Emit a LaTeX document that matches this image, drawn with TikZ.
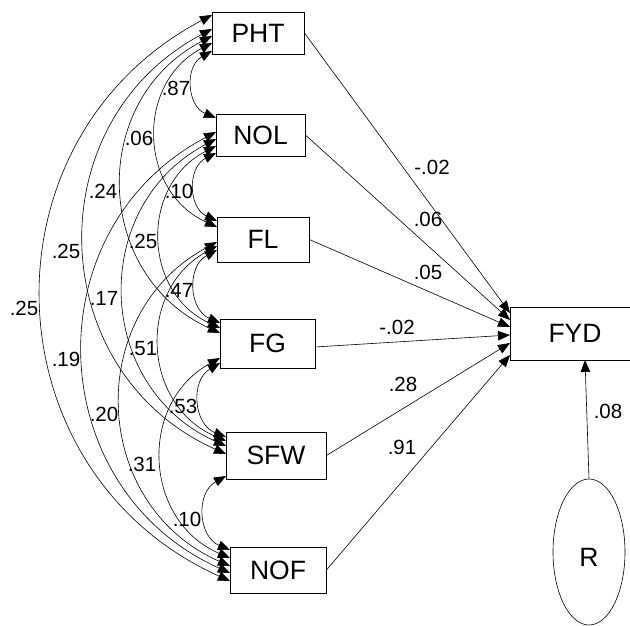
\documentclass[tikz,border=0pt]{standalone}
\usepackage{fontspec}
\setmainfont{Liberation Sans}
\usetikzlibrary{arrows.meta,shapes.geometric}

\newcommand{\varfont}{\fontsize{26.5}{28}\selectfont}
\newcommand{\coeffont}{\fontsize{20.5}{22}\selectfont}

\tikzset{
  var/.style={draw, line width=0.9pt, inner sep=0pt, font=\varfont},
  cov/.style={{Triangle[length=12pt,width=9.5pt]}-{Triangle[length=12pt,width=9.5pt]},
              line width=0.6pt, bend right=64, looseness=1.2},
  effect/.style={-{Triangle[length=12pt,width=9.5pt]}, line width=0.6pt},
  coef/.style={font=\coeffont, inner sep=0pt}
}

\begin{document}
\begin{tikzpicture}[x=1pt, y=-1pt]
\useasboundingbox (0,0) rectangle (630,626);
\clip (0,0) rectangle (630,626);

% observed variables
\node[var, minimum width=92pt, minimum height=42pt] (PHT) at (258,33) {PHT};
\node[var, minimum width=89pt, minimum height=42pt] (NOL) at (260.5,135) {NOL};
\node[var, minimum width=92pt, minimum height=45pt] (FL)  at (263,239.5) {FL};
\node[var, minimum width=95pt, minimum height=49pt] (FG)  at (267.5,343.5) {FG};
\node[var, minimum width=100pt, minimum height=47pt] (SFW) at (276,455.5) {SFW};
\node[var, minimum width=96pt, minimum height=46pt] (NOF) at (278,570) {NOF};
\node[var, minimum width=130pt, minimum height=53pt] (FYD) at (575,333.5) {FYD};
% residual
\node[draw, ellipse, line width=0.6pt, minimum width=72pt, minimum height=146pt, inner sep=0pt,
      label={[font=\varfont, yshift=-5pt]center:R}] (R) at (589,552) {};

% attachment points on the left edges
\coordinate (pht1) at (212,51);  \coordinate (pht2) at (212,43);
\coordinate (pht3) at (212,36);  \coordinate (pht4) at (212,29);
\coordinate (pht5) at (212,15);
\coordinate (nolA) at (216,118);
\coordinate (nol1) at (216,153); \coordinate (nol2) at (216,146);
\coordinate (nol3) at (216,139); \coordinate (nol4) at (216,132);
\coordinate (flA) at (217,221);  \coordinate (flB) at (217,227);
\coordinate (fl1) at (217,250);  \coordinate (fl2) at (217,246);
\coordinate (fl3) at (217,242);
\coordinate (fgA) at (220,323);  \coordinate (fgB) at (220,328);
\coordinate (fgC) at (220,333);
\coordinate (fg1) at (220,363);  \coordinate (fg2) at (220,358);
\coordinate (sfwA) at (226,437); \coordinate (sfwB) at (226,441);
\coordinate (sfwC) at (226,446); \coordinate (sfwD) at (226,454);
\coordinate (sfw1) at (226,476);
\coordinate (nofA) at (230,550); \coordinate (nofB) at (230,558);
\coordinate (nofC) at (230,566); \coordinate (nofD) at (230,573);
\coordinate (nofE) at (230,581);

% covariances
\draw[cov] (pht1) to (nolA);
\draw[cov] (pht2) to (flB);
\draw[cov] (pht3) to (fgC);
\draw[cov] (pht4) to (sfwD);
\draw[cov] (pht5) to (nofE);
\draw[cov] (nol1) to (flA);
\draw[cov] (nol2) to (fgB);
\draw[cov] (nol3) to (sfwC);
\draw[cov] (nol4) to (nofD);
\draw[cov] (fl1) to (fgA);
\draw[cov] (fl2) to (sfwB);
\draw[cov] (fl3) to (nofC);
\draw[cov] (fg1) to (sfwA);
\draw[cov] (fg2) to (nofB);
\draw[cov] (sfw1) to (nofA);

% covariance values
\node[coef] (c1)  at (176,88)  {.87};
\node[coef] (c2)  at (139,138) {.06};
\node[coef] (c3)  at (103,191) {.24};
\node[coef] (c4)  at (66,251)  {.25};
\node[coef] (c5)  at (24,308)  {.25};
\node[coef] (c6)  at (179,191) {.10};
\node[coef] (c7)  at (143,241) {.25};
\node[coef] (c8)  at (104,298) {.17};
\node[coef] (c9)  at (66,359)  {.19};
\node[coef] (c10) at (179,290) {.47};
\node[coef] (c11) at (143,349) {.51};
\node[coef] (c12) at (104,414) {.20};
\node[coef] (c13) at (183,406) {.53};
\node[coef] (c14) at (142,464) {.31};
\node[coef] (c15) at (187,519) {.10};

% paths into FYD
\coordinate (fg-out) at (315,347);
\coordinate (fyd1) at (510,313);
\coordinate (fyd2) at (510,320);
\coordinate (fyd3) at (510,327);
\coordinate (fyd4) at (510,335);
\coordinate (fyd5) at (510,343);
\coordinate (fyd6) at (510,355);
\coordinate (fydR) at (585,360);

\draw[effect] (PHT.east) -- (fyd1);
\draw[effect] (NOL.east) -- (fyd2);
\draw[effect] (FL.east)  -- (fyd3);
\draw[effect] (fg-out)   -- (fyd4);
\draw[effect] (SFW.east) -- (fyd5);
\draw[effect] (NOF.east) -- (fyd6);
\draw[effect] (R.north)  -- (fydR);

% path coefficients
\node[coef] (b1) at (432,167) {-.02};
\node[coef] (b2) at (428,219) {.06};
\node[coef] (b3) at (428,272) {.05};
\node[coef] (b4) at (397,327) {-.02};
\node[coef] (b5) at (403,384) {.28};
\node[coef] (b6) at (402,447) {.91};
\node[coef] (b7) at (608,411) {.08};
\end{tikzpicture}
\end{document}
